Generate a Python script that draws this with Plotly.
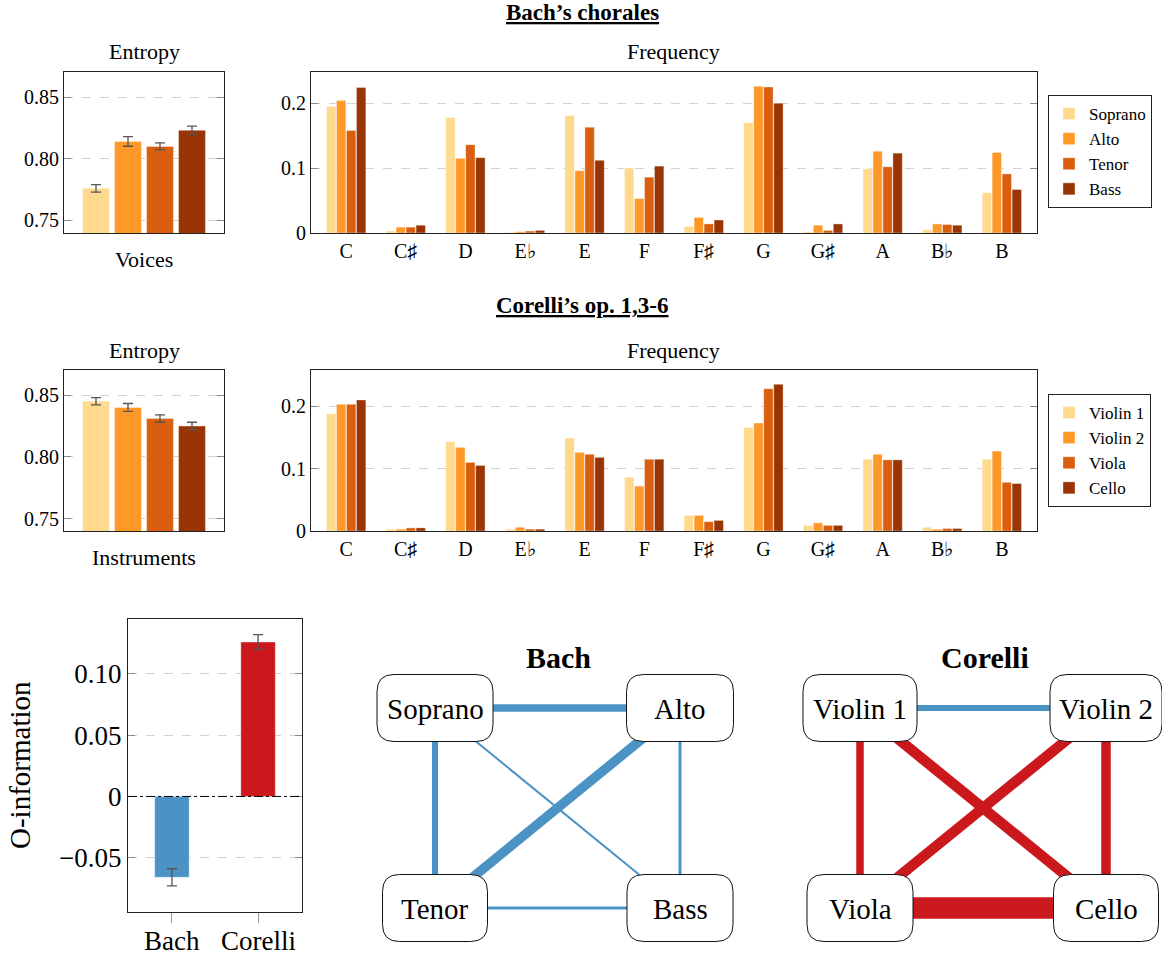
import plotly.graph_objects as go

W, H = 1162, 956

# ---------------- data ----------------
voices = ["Soprano", "Alto", "Tenor", "Bass"]
instruments = ["Violin 1", "Violin 2", "Viola", "Cello"]
pitches = ["C", "C♯", "D", "E♭", "E", "F", "F♯", "G", "G♯", "A", "B♭", "B"]

bach_entropy = [0.776, 0.814, 0.810, 0.823]
bach_entropy_err = [0.003, 0.0039, 0.0028, 0.0034]
corelli_entropy = [0.845, 0.840, 0.831, 0.825]
corelli_entropy_err = [0.003, 0.0032, 0.003, 0.003]

bach_freq_soprano = [0.195, 0.003, 0.178, 0.001, 0.181, 0.100, 0.010, 0.170, 0.002, 0.099, 0.005, 0.062]
bach_freq_alto = [0.204, 0.009, 0.115, 0.002, 0.096, 0.053, 0.024, 0.226, 0.012, 0.126, 0.014, 0.124]
bach_freq_tenor = [0.158, 0.009, 0.136, 0.003, 0.163, 0.086, 0.014, 0.225, 0.004, 0.102, 0.013, 0.091]
bach_freq_bass = [0.224, 0.012, 0.116, 0.004, 0.112, 0.103, 0.020, 0.200, 0.014, 0.123, 0.012, 0.067]

corelli_freq_violin1 = [0.188, 0.003, 0.143, 0.003, 0.149, 0.086, 0.025, 0.166, 0.009, 0.115, 0.006, 0.115]
corelli_freq_violin2 = [0.203, 0.003, 0.134, 0.006, 0.126, 0.072, 0.025, 0.173, 0.013, 0.123, 0.003, 0.128]
corelli_freq_viola = [0.203, 0.005, 0.110, 0.003, 0.123, 0.115, 0.015, 0.228, 0.009, 0.114, 0.004, 0.078]
corelli_freq_cello = [0.210, 0.005, 0.105, 0.003, 0.118, 0.115, 0.017, 0.235, 0.009, 0.114, 0.004, 0.076]

composers = ["Bach", "Corelli"]
o_information = [-0.066, 0.126]
o_information_err = [0.007, 0.006]

# network: node grid positions (column, row) and signed pairwise strengths
bach_nodes = ["Soprano", "Alto", "Tenor", "Bass"]
bach_node_col = [0, 1, 0, 1]
bach_node_row = [1, 1, 0, 0]
bach_edges = [("Soprano", "Alto", -7.5), ("Soprano", "Tenor", -6.0), ("Alto", "Tenor", -9.5),
              ("Soprano", "Bass", -2.0), ("Alto", "Bass", -3.0), ("Tenor", "Bass", -3.0)]

corelli_nodes = ["Violin 1", "Violin 2", "Viola", "Cello"]
corelli_node_col = [0, 1, 0, 1]
corelli_node_row = [1, 1, 0, 0]
corelli_edges = [("Violin 1", "Violin 2", -6.0), ("Violin 1", "Viola", 7.5), ("Violin 2", "Cello", 9.5),
                 ("Violin 1", "Cello", 10.5), ("Violin 2", "Viola", 10.5), ("Viola", "Cello", 21.5)]

# ---------------- style ----------------
FONT = "Liberation Serif"
part_colors = ["#fed98e", "#fe9929", "#d95f0e", "#993404"]
neg_color = "#4b93c5"
pos_color = "#ca181d"
grid_col = "#d2d2d2"

def dx(p0, p1):
    return [p0 / W, p1 / W]

def dy(top, bottom):
    return [1 - bottom / H, 1 - top / H]

def px(p):
    return p / W

def py(p):
    return 1 - p / H

fig = go.Figure()

bar_line = dict(color="rgba(255,255,255,0.45)", width=0.8)
err_style = dict(type="data", color="#555555", thickness=1.3, width=5)

# entropy panels
fig.add_trace(go.Bar(x=voices, y=bach_entropy, width=0.84, marker=dict(color=part_colors, line=bar_line),
                     error_y=dict(array=bach_entropy_err, **err_style), showlegend=False,
                     xaxis="x", yaxis="y"))
fig.add_trace(go.Bar(x=instruments, y=corelli_entropy, width=0.84, marker=dict(color=part_colors, line=bar_line),
                     error_y=dict(array=corelli_entropy_err, **err_style), showlegend=False,
                     xaxis="x3", yaxis="y3"))

# frequency panels
for name, vals, col in zip(voices, [bach_freq_soprano, bach_freq_alto, bach_freq_tenor, bach_freq_bass], part_colors):
    fig.add_trace(go.Bar(x=pitches, y=vals, name=name, marker=dict(color=col, line=bar_line),
                         xaxis="x2", yaxis="y2", legend="legend"))
for name, vals, col in zip(instruments, [corelli_freq_violin1, corelli_freq_violin2, corelli_freq_viola,
                                         corelli_freq_cello], part_colors):
    fig.add_trace(go.Bar(x=pitches, y=vals, name=name, marker=dict(color=col, line=bar_line),
                         xaxis="x4", yaxis="y4", legend="legend2"))

# O-information
fig.add_trace(go.Bar(x=composers, y=o_information, width=0.4,
                     marker=dict(color=[neg_color if v < 0 else pos_color for v in o_information],
                                 line=bar_line),
                     error_y=dict(array=o_information_err, **err_style), showlegend=False,
                     xaxis="x5", yaxis="y5"))

# networks
def add_network(nodes, cols, rows, edges, xa, ya, half_w):
    pos = {n: (c, r) for n, c, r in zip(nodes, cols, rows)}
    for a, b, s in edges:
        fig.add_trace(go.Scatter(x=[pos[a][0], pos[b][0]], y=[pos[a][1], pos[b][1]], mode="lines",
                                 line=dict(color=neg_color if s < 0 else pos_color, width=abs(s)),
                                 hoverinfo="skip", showlegend=False, xaxis=xa, yaxis=ya))
    hh, r = 33.5, 17
    for n in nodes:
        hw = half_w[n]
        path = (f"M{-hw + r},{-hh} L{hw - r},{-hh} Q{hw},{-hh} {hw},{-hh + r} "
                f"L{hw},{hh - r} Q{hw},{hh} {hw - r},{hh} L{-hw + r},{hh} "
                f"Q{-hw},{hh} {-hw},{hh - r} L{-hw},{-hh + r} Q{-hw},{-hh} {-hw + r},{-hh} Z")
        fig.add_shape(type="path", path=path, xref=xa, yref=ya, xsizemode="pixel", ysizemode="pixel",
                      xanchor=pos[n][0], yanchor=pos[n][1], fillcolor="white",
                      line=dict(color="#111111", width=1), layer="above")
        fig.add_annotation(x=pos[n][0], y=pos[n][1], xref=xa, yref=ya, text=n, showarrow=False,
                           font=dict(size=29, family=FONT, color="black"), yshift=-1)

add_network(bach_nodes, bach_node_col, bach_node_row, bach_edges, "x6", "y6",
            {"Soprano": 58, "Alto": 53.5, "Tenor": 52.5, "Bass": 53})
add_network(corelli_nodes, corelli_node_col, corelli_node_row, corelli_edges, "x7", "y7",
            {"Violin 1": 57, "Violin 2": 56, "Viola": 53, "Cello": 52.5})

# ---------------- axes ----------------
frame = dict(showline=True, linecolor="#222222", linewidth=1, zeroline=False, automargin=False)
tick_small = dict(size=20, family=FONT, color="black")
word_small = dict(size=22, family=FONT, color="black")
big = dict(size=27, family=FONT, color="black")

def yax(anchor, rng, tv, tt, dom, font):
    return dict(anchor=anchor, domain=dom, range=rng, tickvals=tv, ticktext=tt, tickfont=font, showgrid=True,
                gridcolor=grid_col, griddash="dash", gridwidth=1, ticks="inside", ticklen=7,
                tickcolor="#888888", mirror="ticks", **frame)

def xax(anchor, rng, dom, **kw):
    return dict(anchor=anchor, domain=dom, range=rng, showgrid=False, mirror=True, **frame, **kw)

ent_tv = [0.75, 0.80, 0.85]
ent_tt = ["0.75", "0.80", "0.85"]
frq_tv = [0, 0.1, 0.2]
frq_tt = ["0", "0.1", "0.2"]

layout = dict(
    width=W, height=H, margin=dict(l=0, r=0, t=0, b=0, autoexpand=False), autosize=False,
    paper_bgcolor="white", plot_bgcolor="white",
    font=dict(family=FONT, color="black"), barmode="group", bargap=0.33, bargroupgap=0.06,
    xaxis=xax("y", [-1, 4], dx(64, 224), showticklabels=False, ticks=""),
    yaxis=yax("x", [0.7398, 0.8703], ent_tv, ent_tt, dy(72, 233), tick_small),
    xaxis2=xax("y2", [-0.59, 11.59], dx(311, 1037), ticks="", tickfont=tick_small),
    yaxis2=yax("x2", [0, 0.248], frq_tv, frq_tt, dy(72, 233), tick_small),
    xaxis3=xax("y3", [-1, 4], dx(64, 224), showticklabels=False, ticks=""),
    yaxis3=yax("x3", [0.7400, 0.8703], ent_tv, ent_tt, dy(370, 531), tick_small),
    xaxis4=xax("y4", [-0.59, 11.59], dx(311, 1037), ticks="", tickfont=tick_small),
    yaxis4=yax("x4", [0, 0.258], frq_tv, frq_tt, dy(370, 531), tick_small),
    xaxis5=xax("y5", [-0.51, 1.51], dx(128, 302), ticks="outside", ticklen=10, tickcolor="#999999",
               showticklabels=False),
    yaxis5=yax("x5", [-0.0943, 0.1448], [-0.05, 0, 0.05, 0.10], ["−0.05", "0", "0.05", "0.10"],
               dy(619, 912), big),
)

# network axes: column 0/1 and row 0/1 land on the node centres
def net_axes(anchor, p0, p1, rng, vertical):
    scale = p1 - p0
    a = p0 + rng[0] * scale
    b = p0 + rng[1] * scale
    base = dict(anchor=anchor, range=rng, visible=False, fixedrange=True, automargin=False)
    if vertical:
        return dict(domain=[1 - a / H, 1 - b / H], **base)
    return dict(domain=[a / W, b / W], **base)

layout["xaxis6"] = net_axes("y6", 435, 680, [-0.35, 1.35], False)
layout["yaxis6"] = net_axes("x6", 908, 708, [-0.24, 1.3], True)
layout["xaxis7"] = net_axes("y7", 860, 1106, [-0.35, (1162 - 860) / 246], False)
layout["yaxis7"] = net_axes("x7", 908, 708, [-0.24, 1.3], True)

legend_style = dict(bordercolor="#222222", borderwidth=1, bgcolor="white", xanchor="left", yanchor="top",
                    font=dict(size=17, family=FONT, color="black"), tracegroupgap=0)
layout["legend"] = dict(x=px(1048), y=py(95), **legend_style)
layout["legend2"] = dict(x=px(1048), y=py(394), **legend_style)

fig.update_layout(**layout)

# zero reference line on the O-information axis
fig.add_shape(type="line", xref="x5 domain", yref="y5", x0=0, x1=1, y0=0, y1=0,
              line=dict(color="black", width=1, dash="dashdot"), layer="above")

# category labels of the O-information axis
for c in composers:
    fig.add_annotation(x=c, xref="x5", y=py(941), yref="paper", text=c, showarrow=False,
                       yanchor="middle", font=big)

# ---------------- text ----------------
def note(text, x, y, font, **kw):
    fig.add_annotation(text=text, x=px(x), y=py(y), xref="paper", yref="paper", showarrow=False,
                       xanchor="center", yanchor="middle", font=font, **kw)

head = dict(size=23, family=FONT, color="black")
note("<b><u>Bach’s chorales</u></b>", 582, 13, head)
note("<b><u>Corelli’s op. 1,3-6</u></b>", 582, 306, head)
note("Entropy", 144, 52, word_small)
note("Frequency", 674, 52, word_small)
note("Voices", 144, 259, word_small)
note("Entropy", 144, 350, word_small)
note("Frequency", 674, 350, word_small)
note("Instruments", 144, 557, word_small)
note("O-information", 20, 765, dict(size=29, family=FONT, color="black"), textangle=-90)
note("<b>Bach</b>", 558, 657, dict(size=30, family=FONT, color="black"))
note("<b>Corelli</b>", 985, 657, dict(size=30, family=FONT, color="black"))

fig.write_html("out.html", config={"displayModeBar": False},
               post_script="document.body.style.margin='0';document.body.style.overflow='hidden';")
